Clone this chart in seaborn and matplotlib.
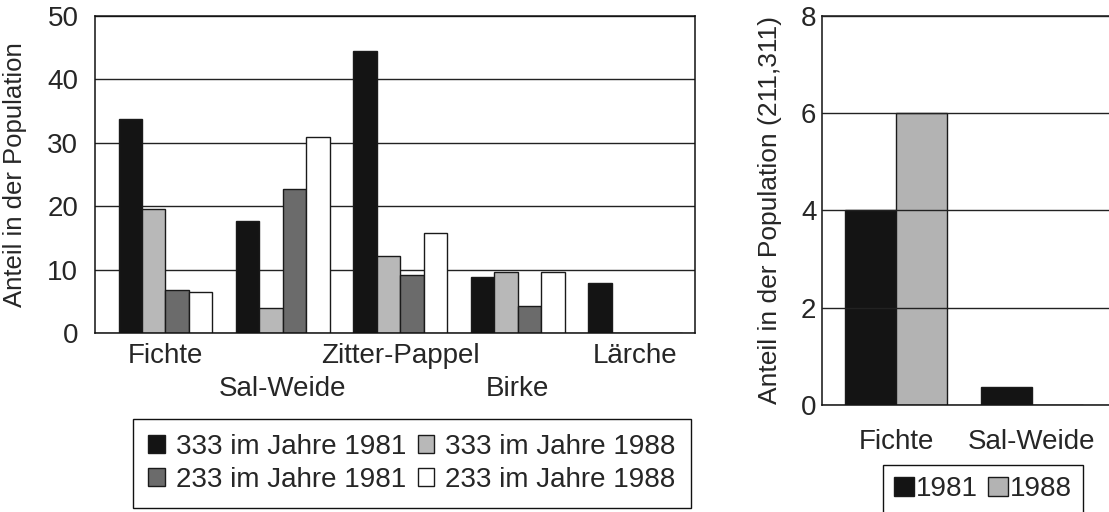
import matplotlib
matplotlib.use('Agg')
import matplotlib.pyplot as plt
from matplotlib.patches import Patch
import seaborn as sns
import pandas as pd

# left chart: species and the four series
species = ['Fichte', 'Sal-Weide', 'Zitter-Pappel', 'Birke', 'Lärche']
series = ['333 im Jahre 1981', '333 im Jahre 1988',
          '233 im Jahre 1981', '233 im Jahre 1988']
v333_1981 = [33.8, 17.6, 44.4, 8.9, 7.9]
v333_1988 = [19.6, 3.9, 12.1, 9.7, 0]
v233_1981 = [6.8, 22.7, 9.1, 4.3, 0]
v233_1988 = [6.5, 30.9, 15.8, 9.6, 0]
left_colors = ['#141414', '#b8b8b8', '#6b6b6b', '#ffffff']

# right chart
species_r = ['Fichte', 'Sal-Weide']
years_r = ['1981', '1988']
v_1981 = [4.0, 0.37]
v_1988 = [6.0, 0.0]
right_colors = ['#141414', '#b3b3b3']


def main():
    sns.set_style('white')
    plt.rcParams['font.family'] = ['Liberation Sans', 'DejaVu Sans']
    plt.rcParams['font.size'] = 20
    edge = '#1a1a1a'

    df = pd.DataFrame({
        'Art': species * 4,
        'Serie': [s for s in series for _ in species],
        'Wert': v333_1981 + v333_1988 + v233_1981 + v233_1988,
    })
    df_r = pd.DataFrame({
        'Art': species_r * 2,
        'Jahr': [y for y in years_r for _ in species_r],
        'Wert': v_1981 + v_1988,
    })

    fig = plt.figure(figsize=(11.09, 5.12), dpi=100)

    # ---- left chart
    ax = fig.add_axes([0.0857, 0.3496, 0.5410, 0.6192])
    sns.barplot(data=df, x='Art', y='Wert', hue='Serie', order=species,
                hue_order=series, palette=left_colors, width=0.8,
                edgecolor=edge, linewidth=1, legend=False, ax=ax)
    ax.set_axisbelow(True)
    ax.set_xlim(-0.60, 4.51)
    ax.set_ylim(0, 50)
    ax.set_yticks([0, 10, 20, 30, 40, 50])
    ax.yaxis.grid(True, color='#222222', linewidth=1)
    for s in ax.spines.values():
        s.set_visible(True)
        s.set_color('#111111')
        s.set_linewidth(1.1)
    ax.tick_params(axis='y', length=0, pad=12, labelsize=20)
    ax.tick_params(axis='x', length=0, pad=7, labelsize=20)
    ax.set_xticks(range(len(species)))
    ax.set_xticklabels(species)
    # staggered tick labels: every second one on a lower row
    for i, t in enumerate(ax.xaxis.get_major_ticks()):
        if i % 2 == 1:
            t.set_pad(31)
    ax.set_xlabel('')
    ax.set_ylabel('Anteil in der Population', fontsize=18.5)
    ax.yaxis.set_label_coords(-0.113, 0.5)

    handles = [Patch(facecolor=c, edgecolor=edge, linewidth=1)
               for c in left_colors]
    # column-major order: 1981 entries in first column
    order = [0, 2, 1, 3]
    fig.legend([handles[i] for i in order], [series[i] for i in order],
               ncol=2, loc='upper left', bbox_to_anchor=(0.12, 0.182),
               borderaxespad=0, frameon=True, fancybox=False,
               edgecolor='#111111', framealpha=1, fontsize=20,
               handlelength=0.6, handleheight=0.6, handletextpad=0.4,
               columnspacing=0.4, labelspacing=0.25, borderpad=0.55)

    # ---- right chart
    ax2 = fig.add_axes([0.7412, 0.209, 0.2687, 0.7598])
    sns.barplot(data=df_r, x='Art', y='Wert', hue='Jahr', order=species_r,
                hue_order=years_r, palette=right_colors, width=0.75,
                edgecolor=edge, linewidth=1, legend=False, ax=ax2)
    ax2.set_axisbelow(False)
    ax2.set_xlim(-0.544, 1.647)
    ax2.set_ylim(0, 8)
    ax2.set_yticks([0, 2, 4, 6, 8])
    ax2.yaxis.grid(True, color='#222222', linewidth=1)
    for name, s in ax2.spines.items():
        s.set_visible(name != 'right')
        s.set_color('#111111')
        s.set_linewidth(1.1)
    ax2.tick_params(axis='y', length=0, pad=4, labelsize=20)
    ax2.tick_params(axis='x', length=0, pad=17, labelsize=20)
    ax2.set_xlabel('')
    ax2.set_ylabel('Anteil in der Population (211,311)', fontsize=19)
    ax2.yaxis.set_label_coords(-0.134, 0.5)

    handles_r = [Patch(facecolor=c, edgecolor=edge, linewidth=1)
                 for c in right_colors]
    fig.legend(handles_r, years_r, ncol=2, loc='upper left',
               bbox_to_anchor=(883 / 1109, 1 - 465 / 512),
               borderaxespad=0, frameon=True, fancybox=False,
               edgecolor='#111111', framealpha=1, fontsize=20,
               handlelength=0.7, handleheight=0.7, handletextpad=0.1,
               columnspacing=0.35, borderpad=0.4)

    fig.savefig('out.png', dpi=100)
    plt.close(fig)


if __name__ == '__main__':
    main()
